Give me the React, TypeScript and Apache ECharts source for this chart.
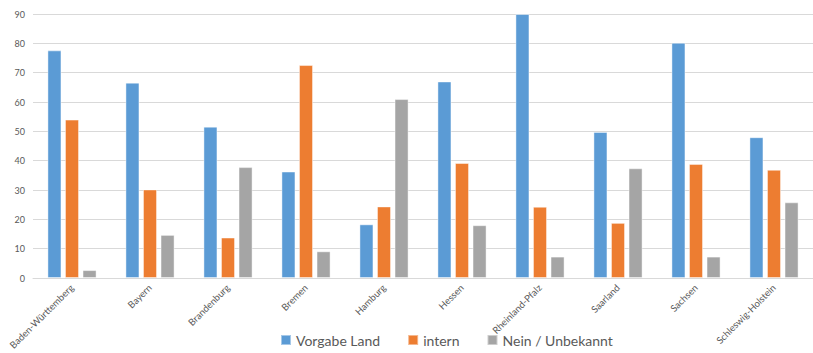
import React, { useEffect, useRef } from "react";
import * as echarts from "echarts";

const categories = [
  "Baden-Württemberg",
  "Bayern",
  "Brandenburg",
  "Bremen",
  "Hamburg",
  "Hessen",
  "Rheinland-Pfalz",
  "Saarland",
  "Sachsen",
  "Schleswig-Holstein",
];
const vorgabeLand = [77.6, 66.6, 51.6, 36.3, 18.3, 67.0, 90.0, 49.8, 80.2, 48.0];
const intern = [54.0, 30.2, 13.8, 72.6, 24.4, 39.2, 24.3, 18.8, 38.9, 36.9];
const neinUnbekannt = [2.7, 14.7, 37.8, 9.1, 61.0, 18.0, 7.3, 37.4, 7.3, 25.8];
const seriesNames = ["Vorgabe Land", "intern", "Nein / Unbekannt"];
const colors = ["#5B9BD5", "#ED7D31", "#A5A5A5"];

export default function App() {
  const ref = useRef<HTMLDivElement>(null);
  useEffect(() => {
    if (!ref.current) return;
    const chart = echarts.init(ref.current, undefined, { renderer: "svg" });
    const font = "Lato, 'Open Sans', sans-serif";
    const data = [vorgabeLand, intern, neinUnbekannt];
    chart.setOption({
      animation: false,
      textStyle: { fontFamily: font },
      grid: { left: 33, right: 0, top: 14, bottom: 75, containLabel: false },
      legend: {
        left: 280,
        top: 333,
        padding: 0,
        itemWidth: 10,
        itemHeight: 10,
        itemGap: 27,
        icon: "rect",
        textStyle: { fontSize: 14, color: "#595959", fontFamily: font },
        data: seriesNames,
      },
      xAxis: {
        type: "category",
        data: categories,
        axisLine: { lineStyle: { color: "#d9d9d9" } },
        axisTick: { show: false },
        axisLabel: {
          rotate: 45,
          interval: 0,
          fontSize: 9.5,
          color: "#595959",
          margin: 8,
          fontFamily: font,
        },
      },
      yAxis: {
        type: "value",
        min: 0,
        max: 90,
        interval: 10,
        axisLine: { show: false },
        axisTick: { show: false },
        splitLine: { lineStyle: { color: "#d9d9d9", width: 1 } },
        axisLabel: { fontSize: 9, color: "#595959", margin: 8, fontFamily: font },
      },
      series: seriesNames.map((name, i) => ({
        name,
        type: "bar",
        data: data[i],
        barGap: "25%",
        barCategoryGap: "37%",
        itemStyle: {
          color: colors[i],
          borderColor: "rgba(255,255,255,0.45)",
          borderWidth: 1,
        },
      })),
    });
    return () => chart.dispose();
  }, []);
  return (
    <div
      ref={ref}
      style={{ position: "fixed", left: 0, top: 0, width: 813, height: 353, background: "#fff" }}
    />
  );
}
